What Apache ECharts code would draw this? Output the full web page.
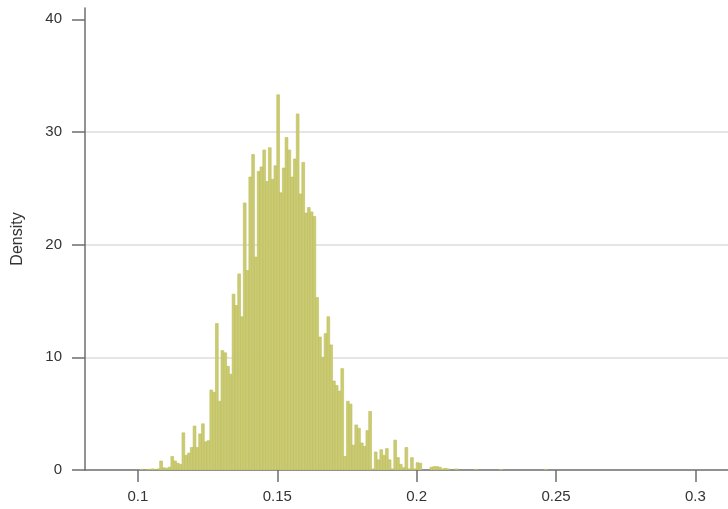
<!DOCTYPE html>
<html>
<head>
<meta charset="utf-8">
<script src="https://cdn.jsdelivr.net/npm/echarts@6/dist/echarts.min.js"></script>
<style>
  html, body { margin: 0; padding: 0; background: #ffffff; }
  #chart { width: 728px; height: 509px; }
</style>
</head>
<body>
<div id="chart"></div>
<script>
// Histogram bins: left edge of the first bin and the common bin width
const binStart = 0.1008;
const binWidth = 0.001;

// Density of each bin, in order from binStart
const density = [
  0.05, 0, 0.05, 0.05, 0.1, 0.05, 0.1, 0.8, 0.2, 0.15,
  0.25, 1.2, 0.8, 0.6, 0.5, 3.3, 1.3, 1.5, 2.0, 3.9,
  2.0, 3.2, 4.1, 2.5, 2.6, 7.1, 6.9, 13.0, 6.1, 10.6,
  10.4, 9.2, 8.5, 15.6, 14.6, 17.4, 13.6, 23.7, 17.7, 26.0,
  28.0, 18.9, 26.5, 26.9, 28.4, 25.6, 28.6, 25.8, 27.0, 33.3,
  24.6, 26.8, 29.5, 28.4, 26.0, 27.6, 31.6, 24.5, 27.3, 22.8,
  23.3, 22.9, 22.5, 15.3, 11.8, 10.0, 12.1, 13.6, 11.1, 7.9,
  7.5, 7.0, 9.0, 1.2, 6.1, 5.85, 2.2, 4.0, 3.7, 2.4,
  2.1, 3.5, 5.2, 0.1, 1.6, 0.9, 1.8, 1.3, 1.9, 0.9,
  0.1, 2.65, 1.1, 0.5, 0.2, 2.0, 0.1, 1.1, 0.1, 0.65,
  0.6, 0, 0, 0, 0.25, 0.3, 0.3, 0.25, 0.1, 0.15,
  0.1, 0, 0, 0.1, 0, 0, 0, 0, 0, 0,
  0.05, 0, 0, 0, 0, 0, 0, 0, 0, 0.05,
  0, 0, 0, 0, 0, 0, 0, 0, 0, 0,
  0, 0, 0, 0, 0, 0.05
];

// Axis ranges and tick values
const xRange = [0.081, 0.3117];
const xTicks = [0.1, 0.15, 0.2, 0.25, 0.3];
const yRange = [0, 41];
const yTicks = [0, 10, 20, 30, 40];
const yName = 'Density';

// [left edge, right edge, density] for every non-empty bin
const bins = [];
density.forEach(function (d, i) {
  if (d > 0) {
    const x0 = binStart + i * binWidth;
    bins.push([x0, x0 + binWidth, d]);
  }
});

const fontFamily = '"Liberation Sans", Arial, Helvetica, sans-serif';
const chart = echarts.init(document.getElementById('chart'), null, { renderer: 'canvas' });

chart.setOption({
  animation: false,
  backgroundColor: '#ffffff',
  grid: { left: 85, right: 0, top: 8, bottom: 39, containLabel: false },
  xAxis: {
    type: 'value',
    min: xRange[0],
    max: xRange[1],
    axisLine: { show: true, onZero: false, lineStyle: { color: '#6e6e6e', width: 1.5 } },
    axisTick: {
      show: true, inside: false, length: 12, customValues: xTicks,
      lineStyle: { color: '#6e6e6e', width: 1.5 }
    },
    axisLabel: {
      customValues: xTicks, margin: 19, color: '#333333',
      fontSize: 15, fontFamily: fontFamily,
      formatter: function (v) { return String(v); }
    },
    splitLine: { show: false }
  },
  yAxis: {
    type: 'value',
    min: yRange[0],
    max: yRange[1],
    name: yName,
    nameLocation: 'middle',
    nameGap: 59,
    nameRotate: 90,
    nameTextStyle: { color: '#333333', fontSize: 16, fontFamily: fontFamily },
    axisLine: { show: true, lineStyle: { color: '#6e6e6e', width: 1.5 } },
    axisTick: {
      show: true, inside: false, length: 13, customValues: yTicks,
      lineStyle: { color: '#6e6e6e', width: 1.5 }
    },
    axisLabel: {
      customValues: yTicks, margin: 23, color: '#333333',
      fontSize: 15, fontFamily: fontFamily
    },
    splitLine: {
      show: true, showMinLine: false, showMaxLine: false,
      lineStyle: { color: '#dcdcdc', width: 1.5 }
    }
  },
  series: [{
    type: 'custom',
    clip: true,
    data: bins,
    encode: { x: [0, 1], y: 2 },
    renderItem: function (params, api) {
      const topLeft = api.coord([api.value(0), api.value(2)]);
      const bottomRight = api.coord([api.value(1), 0]);
      return {
        type: 'rect',
        shape: {
          x: topLeft[0],
          y: topLeft[1],
          width: bottomRight[0] - topLeft[0],
          height: bottomRight[1] - topLeft[1]
        },
        style: { fill: '#cbcb76', stroke: '#bdbd58', lineWidth: 0.6 }
      };
    }
  }]
});
</script>
</body>
</html>
